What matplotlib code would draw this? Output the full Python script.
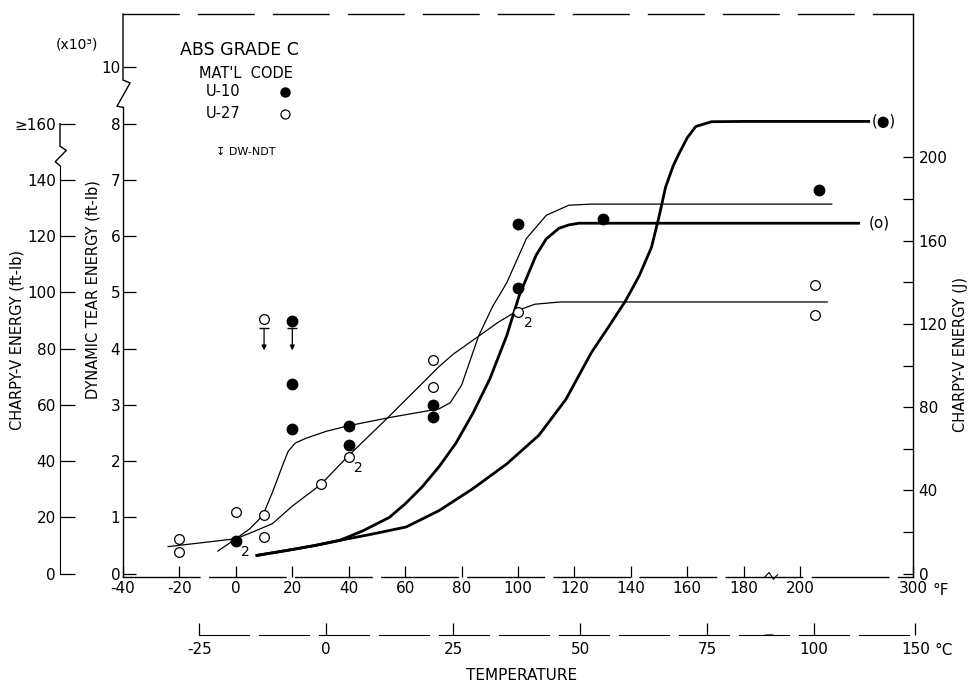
import numpy as np
import matplotlib
matplotlib.use("Agg")
import matplotlib.pyplot as plt

plt.rcParams['font.family'] = ['DejaVu Sans']

# ---- values ----
# dynamic tear test points, x10^3 ft-lb, temperature in F
u10_temp = [0, 20, 20, 20, 40, 40, 70, 70, 100, 100, 130, 217]
u10_dt = [0.58, 4.50, 3.37, 2.58, 2.63, 2.29, 3.00, 2.79, 6.22, 5.08, 6.31, 6.82]
u27_temp = [-20, -20, 0, 10, 10, 10, 30, 40, 70, 70, 100, 213, 213]
u27_dt = [0.61, 0.39, 1.10, 1.05, 0.66, 4.52, 1.60, 2.08, 3.80, 3.32, 4.66, 5.13, 4.59]

# DW-NDT marks (temperature, energy level of the bar)
ndt_temp = [10, 20]
ndt_top = [4.36, 4.36]
ndt_tip = [3.97, 3.97]

# points that carry a "2" (two coincident results)
dup_temp = [0, 40, 100]
dup_dt = [0.58, 2.08, 4.66]

# faired curves - thin: dynamic tear, thick: Charpy-V (in DT-axis units)
dt10_t = [-24, -12, 0, 5, 9.5, 13, 16.6, 18.5, 21, 25, 32, 40, 55, 72, 76, 80, 86, 91, 96, 103, 110, 118, 126, 228]
dt10_e = [0.48, 0.55, 0.62, 0.80, 1.03, 1.45, 1.93, 2.17, 2.32, 2.41, 2.53, 2.63, 2.78, 2.93, 3.04, 3.35, 4.22, 4.75,
          5.17, 5.96, 6.37, 6.55, 6.57, 6.57]
dt27_t = [-6.4, 0, 6, 13, 20, 30, 40, 54, 72, 77, 86, 93, 100, 106, 115, 224]
dt27_e = [0.40, 0.62, 0.74, 0.89, 1.20, 1.58, 2.10, 2.78, 3.68, 3.90, 4.22, 4.47, 4.68, 4.79, 4.83, 4.83]
cv27_t = [7, 19, 28, 36.7, 45, 54.4, 60, 66, 72, 78, 84, 90, 96, 100.4, 106.4, 110, 114.5, 118, 121.6, 130, 253]
cv27_e = [0.32, 0.42, 0.50, 0.59, 0.76, 1.00, 1.24, 1.54, 1.90, 2.32, 2.85, 3.46, 4.23, 4.94, 5.66, 5.95, 6.14,
          6.20, 6.23, 6.23, 6.23]
cv10_t = [7, 19, 28, 36.7, 48, 60.4, 72, 83.7, 96, 107.4, 117, 126, 132, 138, 143, 147.3, 150, 152.3, 155, 157, 160,
          163, 168.6, 180, 262]
cv10_e = [0.32, 0.42, 0.50, 0.59, 0.70, 0.83, 1.12, 1.50, 1.95, 2.46, 3.10, 3.93, 4.38, 4.84, 5.30, 5.80, 6.35, 6.87,
          7.25, 7.46, 7.75, 7.95, 8.07, 8.08, 8.08]

f_ticks = list(range(-40, 201, 20)) + [300]
c_ticks = [-25, 0, 25, 50, 75, 100, 150]
dt_ticks = [0, 1, 2, 3, 4, 5, 6, 7, 8, 10]
ftlb_ticks = [0, 20, 40, 60, 80, 100, 120, 140, 160]
j_ticks = [0, 40, 80, 120, 160, 200]
j_minor = [20, 60, 100, 140, 180]

# ---- broken scales ----
X_BREAK, X_SQUEEZE = 200, 0.4
Y_BREAK, Y_SQUEEZE = 8, 0.5
K_FTLB = 20.0     # charpy ft-lb per DT unit on this chart
K_J = 27.03       # joule per DT unit


def x_fwd(t):
    t = np.asarray(t, float)
    return np.where(t <= X_BREAK, t, X_BREAK + (t - X_BREAK) * X_SQUEEZE)


def x_inv(u):
    u = np.asarray(u, float)
    return np.where(u <= X_BREAK, u, X_BREAK + (u - X_BREAK) / X_SQUEEZE)


def y_funcs(k):
    def fwd(v):
        v = np.asarray(v, float) / k
        return k * np.where(v <= Y_BREAK, v, Y_BREAK + (v - Y_BREAK) * Y_SQUEEZE)

    def inv(w):
        w = np.asarray(w, float) / k
        return k * np.where(w <= Y_BREAK, w, Y_BREAK + (w - Y_BREAK) / Y_SQUEEZE)
    return fwd, inv


def c_fwd(c):
    return x_fwd(np.asarray(c, float) * 1.8 + 32)


def c_inv(u):
    return (x_inv(u) - 32) / 1.8


W, H = 975, 690
L, R, T, B = 123, 913, 14, 577
YLO, YHI = -0.06, 11.9

fig = plt.figure(figsize=(W / 100, H / 100), dpi=100)
ax = fig.add_axes([L / W, 1 - B / H, (R - L) / W, (B - T) / H])
ax.set_xscale('function', functions=(x_fwd, x_inv))
ax.set_yscale('function', functions=y_funcs(1))
ax.set_xlim(-40, 300)
ax.set_ylim(YLO, YHI)

# curves
ax.plot(dt10_t, dt10_e, color='k', lw=0.9, zorder=2)
ax.plot(dt27_t, dt27_e, color='k', lw=0.9, zorder=2)
ax.plot(cv27_t, cv27_e, color='k', lw=2.0, zorder=2, solid_capstyle='butt')
ax.plot(cv10_t, cv10_e, color='k', lw=2.0, zorder=2, solid_capstyle='butt')

# test points
ax.plot(u10_temp, u10_dt, 'o', color='k', ms=7.5, zorder=4)
ax.plot(u27_temp, u27_dt, 'o', mfc='white', mec='k', mew=0.9, ms=7, zorder=4)

for t, e in zip(dup_temp, dup_dt):
    ax.annotate('2', (t, e), xytext=(4, -8), textcoords='offset points', fontsize=10, va='center', ha='left')

for t, top, tip in zip(ndt_temp, ndt_top, ndt_tip):
    ax.plot([t], [top], marker='_', ms=7, mew=1.0, color='k', zorder=3)
    ax.annotate('', xy=(t, tip), xytext=(t, top),
                arrowprops=dict(arrowstyle='-|>', lw=0.9, color='k', mutation_scale=7, shrinkA=0, shrinkB=0))

ax.text(274, 8.08, '(●)', ha='center', va='center', fontsize=10.5)
ax.text(270, 6.24, '(o)', ha='center', va='center', fontsize=11)

# main axes: temperature F and dynamic tear energy
ax.set_xticks(f_ticks)
ax.set_xticklabels([str(v) for v in f_ticks])
ax.set_yticks(dt_ticks)
ax.set_yticklabels([str(v) for v in dt_ticks])
ax.tick_params(axis='x', direction='in', length=8, width=0.9, labelsize=11, pad=3)
ax.tick_params(axis='y', direction='in', length=9.5, width=0.9, labelsize=11, pad=2)
ax.annotate('°F', xy=(300, 0), xycoords=('data', 'axes fraction'), xytext=(14, -4),
            textcoords='offset points', ha='left', va='top', fontsize=11)
ax.set_ylabel('DYNAMIC TEAR ENERGY (ft-lb)', fontsize=10.5)
ax.yaxis.set_label_coords((101 - L) / (R - L), (B - 290) / (B - T))

for s in ax.spines.values():
    s.set_linewidth(1.0)
ax.spines['top'].set_linestyle((0, (40, 14)))
ax.spines['bottom'].set_linestyle((0, (55, 7)))
ax.spines['left'].set_bounds(YLO, 8.58)
yax = ax.get_yaxis_transform()
ax.plot([0, 0, 0.009, -0.0076, 0], [YHI, 9.55, 9.45, 8.62, 8.58], color='k', lw=1.0,
        transform=yax, clip_on=False)
xax = ax.get_xaxis_transform()
ax.plot([187.5, 189, 190.5, 192], [0, 0.008, -0.004, 0.004], color='k', lw=0.8,
        transform=xax, clip_on=False)

ax.text(-0.058, (B - 45) / (B - T), '(x10³)', transform=ax.transAxes, ha='center', va='center', fontsize=10)


# legend block
def axp(px, py):
    return (px - L) / (R - L), (B - py) / (B - T)


ax.text(*axp(180, 50), 'ABS GRADE C', transform=ax.transAxes, ha='left', va='center', fontsize=12.5)
ax.text(*axp(199, 73), "MAT'L  CODE", transform=ax.transAxes, ha='left', va='center', fontsize=10.5)
ax.text(*axp(206, 92), 'U-10', transform=ax.transAxes, ha='left', va='center', fontsize=10.5)
ax.text(*axp(206, 114), 'U-27', transform=ax.transAxes, ha='left', va='center', fontsize=10.5)
ax.plot(*axp(285, 92), 'o', color='k', ms=6.5, transform=ax.transAxes, clip_on=False)
ax.plot(*axp(285, 114), 'o', mfc='white', mec='k', mew=0.9, ms=6.5, transform=ax.transAxes, clip_on=False)
ax.text(*axp(216, 152), '↧ DW-NDT', transform=ax.transAxes, ha='left', va='center', fontsize=8)

# left charpy axis (ft-lb)
ax_fl = ax.twinx()
ax_fl.set_yscale('function', functions=y_funcs(K_FTLB))
ax_fl.set_ylim(YLO * K_FTLB, YHI * K_FTLB)
for s in ['right', 'top', 'bottom']:
    ax_fl.spines[s].set_visible(False)
sx = -63 / (R - L)
ax_fl.spines['left'].set_visible(True)
ax_fl.spines['left'].set_position(('axes', sx))
ax_fl.spines['left'].set_bounds(0, 145)
ax_fl.yaxis.tick_left()
ax_fl.set_yticks(ftlb_ticks)
ax_fl.set_yticklabels([str(v) for v in ftlb_ticks[:-1]] + ['≥160'])
ax_fl.tick_params(axis='y', direction='in', length=11, width=0.9, labelsize=11, pad=3)
ax_fl.plot([sx, sx, sx + 0.008, sx - 0.006, sx], [160, 152, 150.5, 146.5, 145], color='k', lw=1.0,
           transform=ax_fl.get_yaxis_transform(), clip_on=False)
ax_fl.yaxis.set_label_position('left')
ax_fl.set_ylabel('CHARPY-V ENERGY (ft-lb)', fontsize=10.5)
ax_fl.yaxis.set_label_coords((25 - L) / (R - L), (B - 340) / (B - T))

# right charpy axis (J)
ax_j = ax.twinx()
ax_j.set_yscale('function', functions=y_funcs(K_J))
ax_j.set_ylim(YLO * K_J, YHI * K_J)
for s in ax_j.spines.values():
    s.set_visible(False)
ax_j.set_yticks(j_ticks)
ax_j.set_yticklabels([str(v) for v in j_ticks])
ax_j.set_yticks(j_minor, minor=True)
ax_j.tick_params(axis='y', which='both', direction='in', length=7, width=0.9, labelsize=11, pad=4)
ax_j.set_ylabel('CHARPY-V ENERGY (J)', fontsize=10.5)
ax_j.yaxis.set_label_coords((953 - L) / (R - L), (B - 355) / (B - T))

# celsius scale under the plot
c_hi = 152
px_per = (R - L) / float(x_fwd(300) - x_fwd(-40))
c_right = L + float(c_fwd(c_hi) - x_fwd(-40)) * px_per
ax_c = fig.add_axes([L / W, 1 - 635 / H, (c_right - L) / W, 0.0001])
ax_c.set_xscale('function', functions=(c_fwd, c_inv))
ax_c.set_xlim(-40, c_hi)
ax_c.patch.set_visible(False)
for s in ['left', 'right', 'top']:
    ax_c.spines[s].set_visible(False)
ax_c.spines['bottom'].set_bounds(-25, 150)
ax_c.spines['bottom'].set_linestyle((0, (45, 9)))
ax_c.set_yticks([])
ax_c.set_xticks(c_ticks)
ax_c.set_xticklabels([str(v) for v in c_ticks])
ax_c.tick_params(axis='x', direction='in', length=9, width=0.9, labelsize=11, pad=5)
ax_c.annotate('°C', xy=(150, 0), xycoords=('data', 'axes fraction'), xytext=(14, -6),
              textcoords='offset points', ha='left', va='top', fontsize=11)
ax_c.plot([86.5, 87.2, 88.0], [0, 0.6, -0.3], color='k', lw=0.8,
          transform=ax_c.get_xaxis_transform(), clip_on=False)
ax_c.set_xlabel('TEMPERATURE', fontsize=11, labelpad=8)

fig.savefig('out.png', dpi=100, facecolor='white')
